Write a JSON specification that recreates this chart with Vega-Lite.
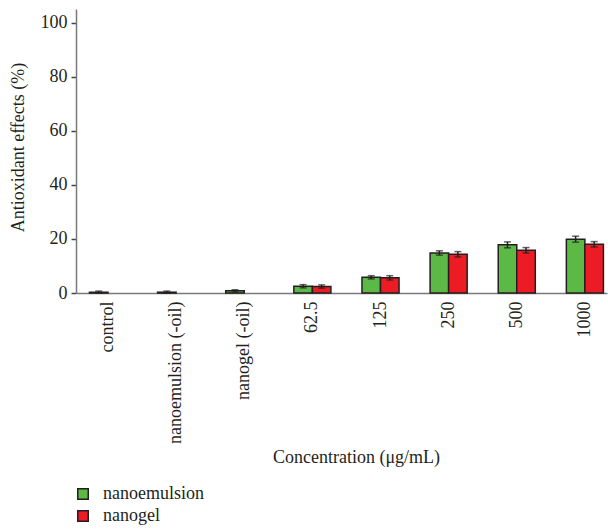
{
  "$schema": "https://vega.github.io/schema/vega-lite/v6.json",
  "autosize": "none",
  "width": 531,
  "height": 284,
  "padding": {"left": 76, "top": 9, "right": 1, "bottom": 236},
  "background": "white",
  "config": {
    "font": "Liberation Serif, DejaVu Serif, serif",
    "view": {"stroke": null},
    "text": {"font": "Liberation Serif, DejaVu Serif, serif"},
    "axis": {"labelFont": "Liberation Serif, DejaVu Serif, serif", "titleFont": "Liberation Serif, DejaVu Serif, serif", "labelColor": "#231f20", "titleColor": "#231f20", "titleFontWeight": "normal", "labelFontSize": 18, "titleFontSize": 18},
    "legend": {"labelFont": "Liberation Serif, DejaVu Serif, serif"}
  },
  "data": {
    "values": [
      {"conc": "control", "series": "nanoemulsion", "value": 0.3, "lo": 0.0, "hi": 0.7},
      {"conc": "nanoemulsion (-oil)", "series": "nanoemulsion", "value": 0.3, "lo": 0.0, "hi": 0.7},
      {"conc": "nanogel (-oil)", "series": "nanoemulsion", "value": 0.8, "lo": 0.4, "hi": 1.2},
      {"conc": "62.5", "series": "nanoemulsion", "value": 2.5, "lo": 1.9, "hi": 3.1},
      {"conc": "62.5", "series": "nanogel", "value": 2.4, "lo": 1.8, "hi": 3.0},
      {"conc": "125", "series": "nanoemulsion", "value": 5.8, "lo": 5.2, "hi": 6.4},
      {"conc": "125", "series": "nanogel", "value": 5.6, "lo": 4.8, "hi": 6.4},
      {"conc": "250", "series": "nanoemulsion", "value": 14.8, "lo": 14.0, "hi": 15.6},
      {"conc": "250", "series": "nanogel", "value": 14.3, "lo": 13.3, "hi": 15.3},
      {"conc": "500", "series": "nanoemulsion", "value": 17.8, "lo": 16.7, "hi": 18.9},
      {"conc": "500", "series": "nanogel", "value": 15.8, "lo": 14.8, "hi": 16.8},
      {"conc": "1000", "series": "nanoemulsion", "value": 19.9, "lo": 18.8, "hi": 21.0},
      {"conc": "1000", "series": "nanogel", "value": 18.0, "lo": 17.0, "hi": 19.0}
    ]
  },
  "encoding": {
    "x": {
      "field": "conc", "type": "nominal", "sort": null,
      "scale": {"paddingInner": 0.456, "paddingOuter": 0.125, "align": 0.79},
      "axis": {
        "title": "Concentration (\u03bcg/mL)", "labelAngle": -90, "labelPadding": 8, "ticks": false,
        "domainColor": "#7a7a7a", "domainWidth": 1.5,
        "titleY": 164, "titleBaseline": "middle", "titleX": 280, "titleAlign": "center"
      }
    },
    "xOffset": {"field": "series", "type": "nominal", "scale": {"domain": ["nanoemulsion", "nanogel"], "paddingInner": 0, "paddingOuter": 0}}
  },
  "layer": [
    {
      "mark": {"type": "bar", "stroke": "#231f20", "strokeWidth": 1.5},
      "encoding": {
        "y": {
          "field": "value", "type": "quantitative",
          "scale": {"domain": [0, 105], "nice": false},
          "axis": {
            "title": "Antioxidant effects (%)", "values": [0, 20, 40, 60, 80, 100], "grid": false,
            "domainColor": "#7a7a7a", "domainWidth": 1.5, "tickColor": "#444", "tickSize": 5, "tickWidth": 1.5,
            "labelPadding": 4, "titleX": -58, "titleBaseline": "middle", "titleY": 138
          }
        },
        "color": {
          "field": "series", "type": "nominal",
          "scale": {"domain": ["nanoemulsion", "nanogel"], "range": ["#5cb946", "#ed1c24"]},
          "legend": {
            "title": null, "orient": "none", "legendX": -2, "legendY": 476,
            "symbolType": "square", "symbolSize": 110, "symbolStrokeColor": "#231f20", "symbolStrokeWidth": 1.5,
            "labelFont": "Liberation Serif, DejaVu Serif, serif", "labelFontSize": 18, "labelColor": "#231f20", "labelOffset": 11, "rowPadding": 4
          }
        }
      }
    },
    {
      "mark": {"type": "rule", "color": "#231f20", "strokeWidth": 1.5},
      "encoding": {"y": {"field": "lo", "type": "quantitative"}, "y2": {"field": "hi"}}
    },
    {
      "mark": {"type": "tick", "color": "#231f20", "thickness": 1.5, "size": 7},
      "encoding": {"y": {"field": "lo", "type": "quantitative"}}
    },
    {
      "mark": {"type": "tick", "color": "#231f20", "thickness": 1.5, "size": 7},
      "encoding": {"y": {"field": "hi", "type": "quantitative"}}
    }
  ]
}
